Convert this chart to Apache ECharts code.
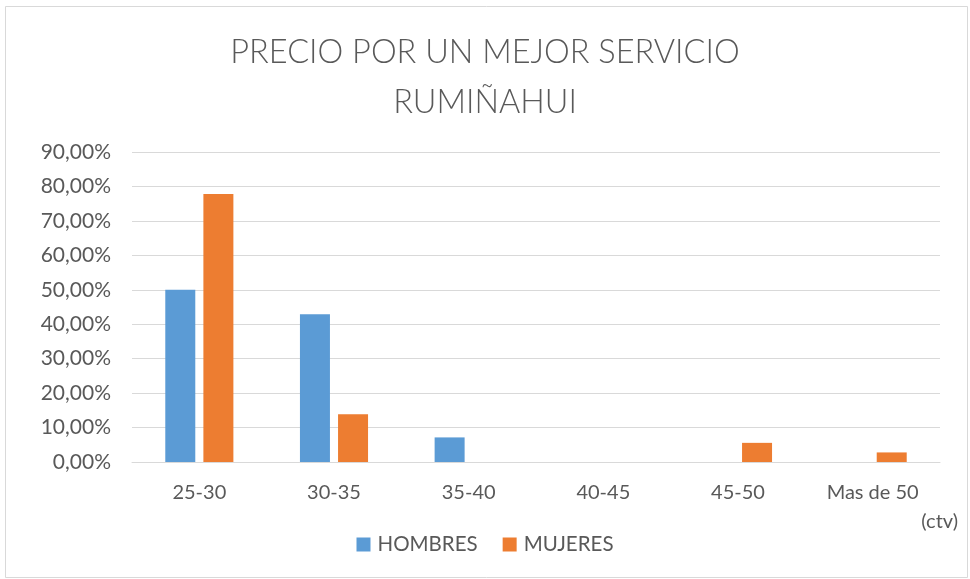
<!DOCTYPE html>
<html>
<head>
<meta charset="utf-8">
<script src="https://cdn.jsdelivr.net/npm/echarts@6/dist/echarts.min.js"></script>
<style>html,body{margin:0;padding:0;background:#fff}#c{width:970px;height:579px}</style>
</head>
<body>
<div id="c"></div>
<script>
var categories = ['25-30', '30-35', '35-40', '40-45', '45-50', 'Mas de 50'];
var hombres = [50.00, 42.86, 7.14, 0, 0, 0];
var mujeres = [77.78, 13.89, 0, 0, 5.56, 2.78];
var seriesNames = ['HOMBRES', 'MUJERES'];
var titleLines = ['PRECIO POR UN MEJOR SERVICIO', 'RUMIÑAHUI'];
var xUnit = '(ctv)';

var chart = echarts.init(document.getElementById('c'));
var font = 'Lato, "Open Sans", sans-serif';
chart.setOption({
  animation: false,
  backgroundColor: '#fff',
  graphic: [{
    type: 'rect', shape: {x: 5.5, y: 6.5, width: 962, height: 571},
    style: {fill: 'none', stroke: '#d9d9d9', lineWidth: 1}
  }],
  title: {
    text: titleLines.join('\n'),
    left: 'center', top: 23,
    textStyle: {fontFamily: font, fontWeight: 300, fontSize: 32.5, color: '#595959', lineHeight: 50}
  },
  legend: {
    data: seriesNames, bottom: 19, left: 'center',
    icon: 'rect', itemWidth: 14, itemHeight: 14, itemGap: 25,
    textStyle: {fontFamily: font, fontSize: 20.5, color: '#595959', padding: [0, 0, 0, 2]}
  },
  grid: {left: 132, right: 30, top: 152, bottom: 117, containLabel: false},
  xAxis: {
    type: 'category', data: categories,
    name: xUnit, nameLocation: 'end', nameGap: 18,
    nameTextStyle: {fontFamily: font, fontSize: 20, color: '#595959', align: 'right', verticalAlign: 'top', padding: [50, 0, 0, 0]},
    axisLine: {lineStyle: {color: '#d9d9d9', width: 1}},
    axisTick: {show: false},
    axisLabel: {fontFamily: font, fontSize: 20, color: '#595959', margin: 21}
  },
  yAxis: {
    type: 'value', min: 0, max: 90, interval: 10,
    axisLine: {show: false}, axisTick: {show: false},
    splitLine: {lineStyle: {color: '#d9d9d9', width: 1}},
    axisLabel: {fontFamily: font, fontSize: 21, color: '#595959', margin: 21,
      formatter: function (v) { return v.toFixed(2).replace('.', ',') + '%'; }}
  },
  series: [
    {name: seriesNames[0], type: 'bar', data: hombres, barWidth: 30, barGap: '27%', itemStyle: {color: '#5B9BD5'}},
    {name: seriesNames[1], type: 'bar', data: mujeres, barWidth: 30, barGap: '27%', itemStyle: {color: '#ED7D31'}}
  ]
});
</script>
</body>
</html>
